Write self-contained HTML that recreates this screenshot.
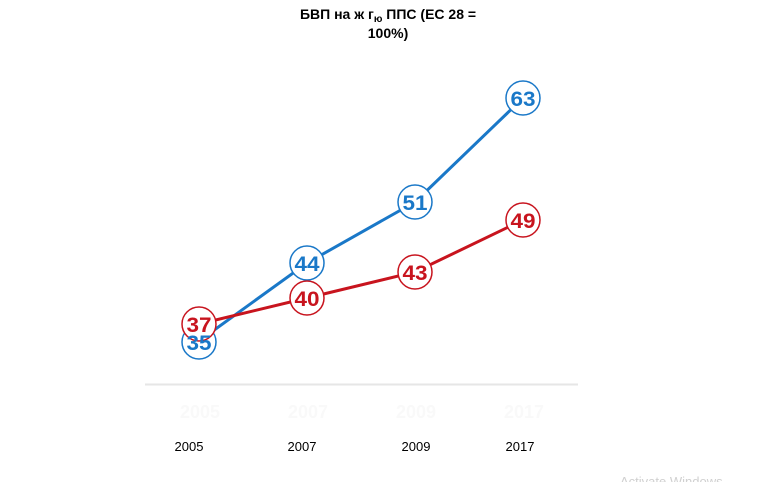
<!DOCTYPE html>
<html><head><meta charset="utf-8"><style>
html,body{margin:0;padding:0;background:#fff;}
</style></head><body>
<svg width="768" height="482" viewBox="0 0 768 482" xmlns="http://www.w3.org/2000/svg" style="display:block">
<text x="388" y="19" text-anchor="middle" font-family="Liberation Sans, sans-serif" font-weight="bold" font-size="14" fill="#000">БВП на ж г<tspan font-size="10" dy="3">ю</tspan><tspan dy="-3"> ППС (ЕС 28 =</tspan></text>
<text x="388" y="38" text-anchor="middle" font-family="Liberation Sans, sans-serif" font-weight="bold" font-size="14" fill="#000">100%)</text>
<line x1="145" y1="384.5" x2="578" y2="384.5" stroke="#e6e6e6" stroke-width="2"/>
<polyline points="199,341 307,263 415,202 523,98" fill="none" stroke="#1a78c8" stroke-width="3"/>
<polyline points="199,324 307,298 415,272 523,220" fill="none" stroke="#c8141e" stroke-width="3"/>
<g fill="#fff" stroke-width="1.5">
<circle cx="199" cy="342" r="17" stroke="#1a78c8"/>
<circle cx="307" cy="263" r="17" stroke="#1a78c8"/>
<circle cx="415" cy="202" r="17" stroke="#1a78c8"/>
<circle cx="523" cy="98" r="17" stroke="#1a78c8"/>
<circle cx="199" cy="324" r="17" stroke="#c8141e"/>
<circle cx="307" cy="298" r="17" stroke="#c8141e"/>
<circle cx="415" cy="272" r="17" stroke="#c8141e"/>
<circle cx="523" cy="220" r="17" stroke="#c8141e"/>
</g>
<g font-family="Liberation Sans, sans-serif" font-weight="bold" font-size="21" text-anchor="middle">
<text x="199" y="350" fill="#1a78c8" textLength="25" lengthAdjust="spacingAndGlyphs">35</text>
<text x="307" y="271" fill="#1a78c8" textLength="25" lengthAdjust="spacingAndGlyphs">44</text>
<text x="415" y="210" fill="#1a78c8" textLength="25" lengthAdjust="spacingAndGlyphs">51</text>
<text x="523" y="106" fill="#1a78c8" textLength="25" lengthAdjust="spacingAndGlyphs">63</text>
<text x="199" y="332" fill="#c8141e" textLength="25" lengthAdjust="spacingAndGlyphs">37</text>
<text x="307" y="306" fill="#c8141e" textLength="25" lengthAdjust="spacingAndGlyphs">40</text>
<text x="415" y="280" fill="#c8141e" textLength="25" lengthAdjust="spacingAndGlyphs">43</text>
<text x="523" y="228" fill="#c8141e" textLength="25" lengthAdjust="spacingAndGlyphs">49</text>
</g>
<g font-family="Liberation Sans, sans-serif" font-size="13" text-anchor="middle" fill="#000">
<text x="189" y="451">2005</text><text x="302" y="451">2007</text><text x="416" y="451">2009</text><text x="520" y="451">2017</text>
</g>
<g font-family="Liberation Sans, sans-serif" font-size="18" font-weight="bold" text-anchor="middle" fill="#f9f9f9">
<text x="200" y="418">2005</text><text x="308" y="418">2007</text><text x="416" y="418">2009</text><text x="524" y="418">2017</text>
</g>
<text x="620" y="486" font-family="Liberation Sans, sans-serif" font-size="13" fill="#d0d0d0">Activate Windows</text>
</svg>
</body></html>
